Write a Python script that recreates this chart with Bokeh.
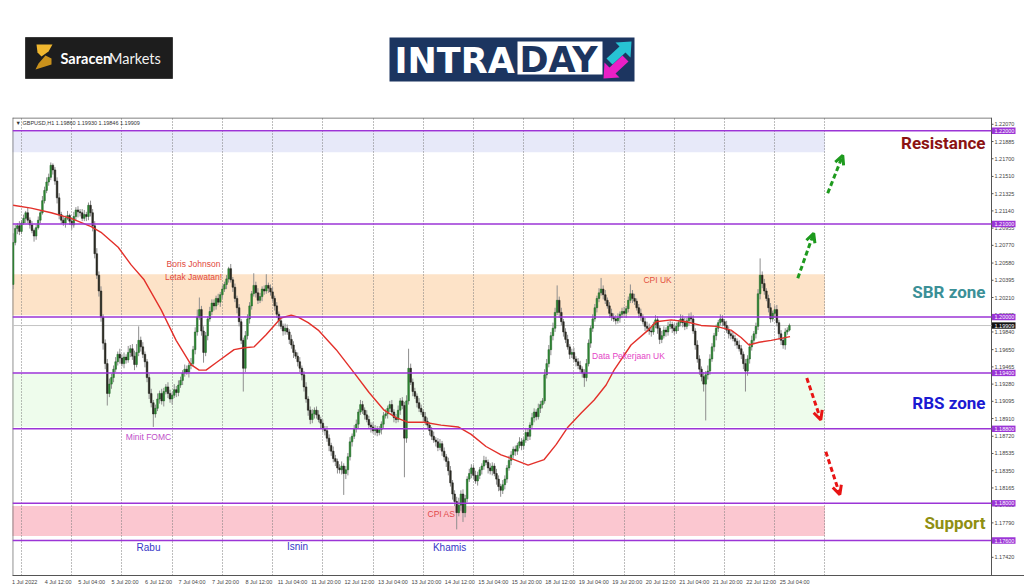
from bokeh.plotting import figure
from bokeh.models import Range1d, FixedTicker, Label, Arrow, OpenHead, ColumnDataSource
from bokeh.core.properties import value
from bokeh.layouts import column
from bokeh.embed import file_html
from bokeh.resources import INLINE

# ---------------- data (GBPUSD H1, prices in pips: 12035 -> 1.2035) ----------------
FIRST_OPEN_PIPS = 12035
CLOSE_PIPS = [
    12080, 12095, 12098, 12092, 12101, 12106, 12112, 12104, 12099, 12093, 12087, 12096, 12104, 12112, 12125, 12136,
    12145, 12150, 12163, 12158, 12146, 12128, 12110, 12104, 12101, 12106, 12109, 12103, 12099, 12108, 12115, 12113,
    12112, 12106, 12110, 12108, 12120, 12112, 12098, 12068, 12045, 12028, 12000, 11972, 11950, 11918, 11928, 11935,
    11944, 11952, 11960, 11956, 11950, 11957, 11954, 11962, 11966, 11958, 11949, 11962, 11975, 11968, 11960, 11952,
    11935, 11918, 11908, 11896, 11902, 11912, 11918, 11910, 11920, 11925, 11918, 11912, 11916, 11922, 11919, 11927,
    11932, 11940, 11944, 11941, 11948, 11950, 11965, 11984, 12000, 12008, 11985, 11962, 11980, 11998, 12006, 12015,
    12012, 12020, 12016, 12024, 12030, 12035, 12041, 12052, 12040, 12032, 12020, 12010, 11995, 11975, 11945, 11980,
    11998, 12012, 12025, 12034, 12026, 12018, 12022, 12030, 12028, 12034, 12031, 12027, 12020, 12012, 12003, 11996,
    11990, 11985, 11988, 11984, 11976, 11970, 11962, 11958, 11952, 11945, 11938, 11925, 11912, 11900, 11890, 11896,
    11900, 11895, 11890, 11886, 11880, 11878, 11870, 11862, 11856, 11848, 11845, 11838, 11836, 11840, 11832, 11836,
    11850, 11866, 11872, 11880, 11885, 11898, 11906, 11900, 11895, 11890, 11884, 11882, 11878, 11880, 11876, 11879,
    11885, 11894, 11896, 11902, 11906, 11898, 11892, 11890, 11900, 11910, 11905, 11870, 11910, 11945, 11930, 11920,
    11915, 11908, 11902, 11898, 11893, 11888, 11884, 11878, 11872, 11868, 11866, 11860, 11864, 11856, 11850, 11845,
    11835, 11822, 11810, 11802, 11790, 11798, 11810, 11790, 11805, 11826, 11832, 11838, 11830, 11824, 11830, 11836,
    11840, 11846, 11844, 11838, 11835, 11840, 11832, 11826, 11818, 11814, 11820, 11826, 11838, 11846, 11852, 11858,
    11856, 11862, 11866, 11862, 11868, 11876, 11872, 11884, 11892, 11898, 11893, 11902, 11906, 11910, 11938, 11950,
    11965, 11980, 11988, 12005, 12018, 12005, 11995, 11984, 11976, 11968, 11960, 11962, 11955, 11952, 11948, 11944,
    11940, 11935, 11950, 11972, 11988, 11998, 12010, 12020, 12026, 12030, 12024, 12018, 12012, 12004, 12000, 11998,
    11996, 11999, 12003, 12006, 12004, 12009, 12018, 12025, 12020, 12017, 12010, 12004, 12000, 11995, 11990, 11988,
    11985, 11984, 11992, 11997, 11988, 11976, 11980, 11986, 11984, 11990, 11992, 11988, 11985, 11990, 11994, 11998,
    11994, 11990, 11996, 12000, 11998, 11985, 11970, 11955, 11944, 11936, 11928, 11938, 11942, 11955, 11968, 11980,
    11988, 11994, 11998, 11995, 11991, 11986, 11982, 11980, 11977, 11974, 11970, 11966, 11960, 11950, 11942, 11955,
    11968, 11975, 11982, 11990, 12025, 12045, 12036, 12028, 12020, 12010, 11998, 12004, 12008, 11994, 11982, 11975,
    11970, 11984, 11986, 11990.9,
]
UPPER_WICK_PIPS = [
    10, 4, 3, 5, 3, 4, 2, 6, 3, 4, 2, 3, 4, 3, 5, 4,
    5, 4, 3, 2, 3, 4, 5, 3, 4, 3, 5, 2, 4, 5, 3, 4,
    3, 4, 5, 3, 3, 5, 4, 5, 6, 4, 5, 3, 4, 5, 6, 4,
    4, 5, 3, 6, 4, 5, 3, 7, 4, 5, 6, 9, 15, 4, 5, 3,
    3, 4, 5, 3, 4, 6, 3, 5, 4, 3, 5, 4, 3, 6, 4, 5,
    4, 3, 5, 4, 3, 6, 4, 5, 8, 13, 4, 5, 4, 3, 5, 4,
    4, 3, 5, 3, 4, 3, 4, 2, 5, 3, 4, 3, 4, 3, 3, 5,
    5, 4, 3, 13, 4, 5, 4, 3, 4, 12, 3, 4, 5, 3, 4, 3,
    4, 3, 5, 4, 3, 5, 4, 3, 4, 5, 3, 4, 5, 3, 4, 5,
    3, 4, 5, 3, 4, 3, 5, 4, 3, 5, 4, 3, 4, 5, 3, 4,
    4, 5, 3, 4, 5, 3, 5, 4, 3, 5, 4, 3, 5, 4, 3, 4,
    3, 4, 5, 3, 4, 5, 3, 4, 5, 3, 4, 4, 6, 21, 5, 4,
    4, 3, 5, 4, 3, 5, 4, 3, 4, 5, 3, 4, 5, 3, 4, 3,
    4, 5, 3, 4, 5, 8, 4, 5, 4, 3, 5, 4, 3, 5, 4, 3,
    3, 5, 4, 3, 5, 4, 3, 5, 4, 3, 5, 4, 3, 5, 4, 3,
    4, 3, 5, 4, 3, 5, 4, 3, 5, 4, 3, 5, 4, 3, 6, 5,
    5, 4, 6, 5, 16, 4, 5, 3, 4, 5, 3, 4, 5, 3, 4, 5,
    3, 4, 5, 4, 3, 5, 4, 3, 5, 12, 4, 5, 3, 4, 5, 4,
    4, 5, 3, 4, 5, 3, 4, 10, 4, 5, 3, 4, 5, 3, 4, 5,
    5, 4, 3, 5, 4, 3, 5, 4, 3, 5, 4, 3, 5, 4, 3, 5,
    4, 5, 3, 4, 5, 4, 3, 5, 4, 3, 5, 4, 6, 5, 4, 3,
    4, 3, 5, 4, 3, 5, 4, 3, 5, 4, 3, 5, 4, 3, 5, 4,
    4, 5, 3, 4, 5, 18, 4, 5, 3, 4, 5, 3, 4, 5, 3, 4,
    3, 4, 3, 2.1,
]
LOWER_WICK_PIPS = [
    5, 3, 6, 4, 3, 2, 5, 3, 4, 3, 6, 4, 2, 3, 2, 3,
    3, 4, 3, 5, 4, 6, 5, 4, 3, 5, 2, 4, 5, 3, 4, 6,
    4, 3, 3, 5, 4, 4, 6, 5, 4, 6, 5, 7, 6, 13, 4, 5,
    5, 3, 4, 6, 3, 5, 4, 3, 5, 4, 6, 3, 4, 5, 4, 6,
    5, 6, 5, 14, 4, 3, 5, 4, 6, 3, 5, 4, 6, 3, 5, 4,
    3, 5, 4, 3, 6, 4, 3, 5, 4, 3, 5, 11, 4, 5, 3, 4,
    5, 4, 3, 5, 4, 3, 5, 4, 3, 5, 4, 6, 5, 4, 25, 4,
    4, 5, 4, 3, 5, 4, 3, 5, 4, 3, 5, 4, 3, 5, 4, 6,
    3, 5, 4, 3, 5, 4, 6, 3, 5, 4, 6, 5, 4, 6, 5, 4,
    5, 4, 3, 6, 4, 5, 4, 6, 5, 4, 5, 6, 4, 5, 23, 6,
    6, 4, 5, 3, 4, 5, 3, 4, 5, 3, 4, 6, 3, 5, 4, 3,
    5, 4, 3, 5, 4, 3, 5, 4, 3, 5, 4, 42, 5, 4, 3, 5,
    3, 5, 4, 3, 5, 4, 3, 5, 4, 3, 5, 4, 3, 5, 4, 6,
    5, 4, 6, 5, 18, 4, 6, 10, 5, 4, 3, 5, 4, 3, 5, 4,
    5, 4, 3, 6, 4, 5, 3, 6, 5, 7, 4, 5, 4, 3, 5, 4,
    5, 4, 3, 5, 4, 3, 5, 4, 3, 5, 4, 3, 5, 4, 3, 4,
    4, 6, 5, 4, 3, 6, 4, 5, 4, 3, 5, 4, 3, 5, 4, 3,
    5, 10, 4, 3, 5, 4, 3, 5, 4, 3, 5, 4, 3, 5, 4, 3,
    4, 3, 5, 4, 3, 5, 4, 3, 5, 4, 3, 5, 4, 3, 5, 4,
    4, 5, 3, 4, 6, 5, 4, 3, 5, 4, 3, 5, 4, 3, 5, 4,
    5, 4, 3, 5, 4, 3, 5, 4, 6, 5, 8, 39, 5, 4, 3, 5,
    5, 4, 3, 5, 4, 3, 5, 4, 3, 5, 4, 3, 5, 6, 22, 5,
    5, 4, 3, 5, 4, 6, 5, 4, 3, 5, 4, 3, 5, 4, 6, 5,
    4, 5, 3, 1.4,
]

# moving average (red line), read at bar positions
MA_BAR = [0, 8.6, 18.2, 27.7, 37.3, 42, 50.2, 56.4, 62.6, 70.7, 77.9, 85, 88.9, 92.2, 97,
          105.6, 110.4, 115.2, 120.9, 128, 132.9, 136.2, 141, 145.8, 154.4, 163, 170.1, 177.3, 183, 188.8,
          196.4, 204.5, 212.7, 218.9, 226, 233.2, 239.4, 246.1, 249.9, 253.8, 259.5, 265.2, 271.5, 277.7, 283.4,
          287.2, 295.3, 303.5, 307.3, 314.5, 321.6, 328.8, 336, 343.1, 347.9, 351.7, 356.5, 362.3, 371.3]
MA_PIPS = [12120, 12117, 12112, 12106, 12097, 12091, 12075, 12056, 12040, 12008, 11975, 11949, 11943, 11943, 11951,
           11965, 11967, 11968, 11981, 11999, 12002, 12000, 11994, 11986, 11965, 11940, 11919, 11900, 11892, 11887,
           11887, 11884, 11882, 11874, 11861, 11852, 11847, 11841, 11844, 11847, 11863, 11882, 11897, 11911, 11927,
           11943, 11970, 11986, 11995, 11997, 11995, 11991, 11990, 11986, 11978, 11970, 11973, 11975, 11979]

TIME_LABELS = ["1 Jul 2022", "4 Jul 12:00", "5 Jul 04:00", "5 Jul 20:00", "6 Jul 12:00", "7 Jul 04:00",
               "7 Jul 20:00", "8 Jul 12:00", "11 Jul 04:00", "11 Jul 20:00", "12 Jul 12:00", "13 Jul 04:00",
               "13 Jul 20:00", "14 Jul 12:00", "15 Jul 04:00", "15 Jul 20:00", "18 Jul 12:00", "19 Jul 04:00",
               "19 Jul 20:00", "20 Jul 12:00", "21 Jul 04:00", "21 Jul 20:00", "22 Jul 12:00", "25 Jul 04:00"]
BARS_PER_LABEL = 16
FIRST_DAY_BAR = 4
BARS_PER_DAY = 24
DAY_LINES = 17

PRICE_TICKS = [1.22070, 1.21885, 1.21700, 1.21510, 1.21325, 1.21140, 1.20955, 1.20770, 1.20580, 1.20395,
               1.20210, 1.20025, 1.19840, 1.19650, 1.19465, 1.19280, 1.19095, 1.18910, 1.18720, 1.18535,
               1.18350, 1.18165, 1.17980, 1.17790, 1.17605, 1.17420]

LEVELS = [1.22000, 1.21000, 1.20000, 1.19400, 1.18800, 1.18000, 1.17600]
ZONE_NAMES = ["Resistance", "SBR zone", "RBS zone", "Support"]
ZONE_BOTTOM = [1.2177, 1.2002, 1.1882, 1.1765]
ZONE_TOP = [1.2199, 1.2046, 1.1939, 1.1797]
ZONE_END_BAR = 388
ZONE_FILL = ["#e7e9f9", "#fde3c8", "#eefcec", "#fbc7d0"]
ZONE_TEXT_COLOR = ["#8b1212", "#3b9097", "#1a1ad2", "#8f8f12"]
ZONE_TEXT_Y = [1.21864, 1.20268, 1.19079, 1.17793]

NOTES = ["Boris Johnson", "Letak Jawatan!", "Minit FOMC", "CPI UK", "Data Pekerjaan UK", "CPI AS"]
NOTE_BAR = [86.2, 86.2, 64.7, 308, 294.1, 204.7]
NOTE_Y = [1.20568, 1.20429, 1.18714, 1.20396, 1.19582, 1.17889]
NOTE_COLOR = ["#e2473c", "#e2473c", "#c04ec8", "#e2503c", "#e444c6", "#e24848"]

DAYS = ["Rabu", "Isnin", "Khamis"]
DAY_BAR = [64.7, 135.9, 208.6]
DAY_Y = [1.17525, 1.17536, 1.17525]

# dashed arrows: (bar_start, price_start, bar_end, price_end, colour)
ARROWS = [(375.0, 1.20418, 382.6, 1.20900, "#1e9a1e"),
          (389.3, 1.21329, 396.5, 1.21736, "#1e9a1e"),
          (379.3, 1.19346, 386.0, 1.18896, "#e81414"),
          (388.4, 1.18554, 395.1, 1.18093, "#e81414")]

# ---------------- derived OHLC ----------------
close = [c / 1e4 for c in CLOSE_PIPS]
opn = [FIRST_OPEN_PIPS / 1e4] + close[:-1]
high = [max(o, c) + u / 1e4 for o, c, u in zip(opn, close, UPPER_WICK_PIPS)]
low = [min(o, c) - d / 1e4 for o, c, d in zip(opn, close, LOWER_WICK_PIPS)]
bars = list(range(len(close)))
bull = [c >= o for o, c in zip(opn, close)]
src = ColumnDataSource(dict(
    i=bars, high=high, low=low,
    top=[max(o, c) for o, c in zip(opn, close)],
    bottom=[min(o, c) for o, c in zip(opn, close)],
    fill=["#2f8c34" if b else "#2e2e26" for b in bull],
    edge=["#1d5e22" if b else "#1a1a14" for b in bull],
))

# ---------------- geometry ----------------
W = 1024
HEAD_H = 116
MAIN_H = 471
B_LEFT, B_TOP, B_BOTTOM = 12, 1, 11
PX_PER_BAR = 2.0924
PX_PER_PRICE = 9333.0
X0 = -0.3
X1 = X0 + (W - B_LEFT) / PX_PER_BAR
X_AXIS = X0 + (991 - 12) / PX_PER_BAR        # price-scale line
Y1 = 1.221429
Y0 = Y1 - (MAIN_H - B_TOP - B_BOTTOM) / PX_PER_PRICE
BAR_PX = 1.0 / PX_PER_BAR
PRICE_PX = 1.0 / PX_PER_PRICE
LABEL_SHIFT_BARS = 5.5   # MT4 writes time labels to the right of their bar

# ---------------- header with logos ----------------
hdr = figure(width=W, height=HEAD_H, x_range=Range1d(B_LEFT, W), y_range=Range1d(HEAD_H, 0),
             output_backend="svg", toolbar_location=None, x_axis_location=None, y_axis_location=None,
             min_border_left=B_LEFT, min_border_right=0, min_border_top=0, min_border_bottom=0)
hdr.outline_line_color = None
hdr.grid.visible = False
hdr.background_fill_color = "white"
hdr.border_fill_color = "white"
# Saracen Markets
hdr.quad(left=[25], right=[172], top=[37], bottom=[78], fill_color="#1d1d1d", line_color="#3a3a3a")
hdr.patch(x=[36, 52, 48, 41, 37], y=[44, 44, 51, 56, 52], fill_color="#f0b72f", line_color=None)
hdr.patch(x=[45, 51, 51, 35, 38], y=[55, 58, 64, 69, 63], fill_color="#c9911c", line_color=None)
hdr.text(x=[60], y=[58], text=["Saracen"], text_color="white", text_font=value("Lato"),
         text_font_style="bold", text_font_size="14.5px", text_baseline="middle")
hdr.text(x=[108.5], y=[58], text=["Markets"], text_color="#f2f2f2", text_font=value("Lato"),
         text_font_size="14.5px", text_baseline="middle")
# INTRADAY
hdr.quad(left=[389], right=[634], top=[37], bottom=[81], fill_color="#1c3560", line_color=None)
hdr.quad(left=[517], right=[602], top=[41], bottom=[74], fill_color="white", line_color=None)
hdr.text(x=[394], y=[60], text=["INTRA"], text_color="white", text_font=value("DejaVu Sans"),
         text_font_style="bold", text_font_size="35px", text_baseline="middle")
hdr.text(x=[519], y=[59], text=["DAY"], text_color="#1c3560", text_font=value("DejaVu Sans"),
         text_font_style="bold", text_font_size="35px", text_baseline="middle")
hdr.patch(x=[631, 630, 625, 612, 606, 619, 615], y=[41, 57, 52, 64, 58, 46, 42], fill_color="#27c3d4", line_color=None)
hdr.patch(x=[603, 604, 609, 622, 628, 615, 619], y=[78, 62, 67, 55, 61, 73, 77], fill_color="#ea1fc6", line_color=None)

# ---------------- main chart ----------------
p = figure(width=W, height=MAIN_H, x_range=Range1d(X0, X1), y_range=Range1d(Y0, Y1),
           output_backend="svg", toolbar_location=None, y_axis_location=None,
           min_border_left=B_LEFT, min_border_right=0, min_border_top=B_TOP, min_border_bottom=B_BOTTOM)
p.background_fill_color = "white"
p.border_fill_color = "white"
p.outline_line_color = None

# zones
zr = p.quad(left=[X0 - 5] * len(ZONE_TOP), right=[ZONE_END_BAR] * len(ZONE_TOP), bottom=ZONE_BOTTOM, top=ZONE_TOP,
            fill_color=ZONE_FILL, line_color=None)
zr.level = "image"

# grids
p.ygrid.visible = False
p.xgrid.ticker = FixedTicker(ticks=[FIRST_DAY_BAR + BARS_PER_DAY * k for k in range(DAY_LINES)])
p.xgrid.grid_line_color = "#7a7a7a"
p.xgrid.grid_line_dash = "1 2"
p.xgrid.grid_line_width = 1

# frame border (left, top) and price-scale line
p.segment(x0=[X0 + 0.3 * BAR_PX, X0, X_AXIS], y0=[Y0, Y1 - 0.5 * PRICE_PX, Y0],
          x1=[X0 + 0.3 * BAR_PX, X_AXIS, X_AXIS], y1=[Y1, Y1 - 0.5 * PRICE_PX, Y1],
          line_color="#555555", line_width=1)

# bid line
p.segment(x0=[X0], y0=[close[-1]], x1=[X_AXIS], y1=[close[-1]], line_color="#c4c4c4", line_width=1)

# candles
p.segment(x0="i", y0="low", x1="i", y1="high", source=src, line_color="#8e8e8e", line_width=1)
p.vbar(x="i", width=0.78, top="top", bottom="bottom", source=src, fill_color="fill", line_color="edge",
       line_width=0.5)

# moving average
p.line(x=MA_BAR, y=[v / 1e4 for v in MA_PIPS], line_color="#e3302a", line_width=1.4)

# level lines (stop at the price scale)
p.segment(x0=[X0] * len(LEVELS), y0=LEVELS, x1=[X_AXIS] * len(LEVELS), y1=LEVELS,
          line_color="#9b35d6", line_width=1.6)

# annotations text
p.text(x=NOTE_BAR, y=NOTE_Y, text=NOTES, text_color=NOTE_COLOR, text_font=value("Liberation Sans"),
       text_font_size="8.5px", text_align="center", text_baseline="middle")
p.text(x=DAY_BAR, y=DAY_Y, text=DAYS, text_color="#3636c8", text_font=value("Liberation Sans"),
       text_font_size="10px", text_align="center", text_baseline="middle")
p.text(x=[X0 + (985 - 12) * BAR_PX] * len(ZONE_NAMES), y=ZONE_TEXT_Y, text=ZONE_NAMES, text_color=ZONE_TEXT_COLOR,
       text_font=value("Roboto"), text_font_style="bold", text_font_size="17px",
       text_align="right", text_baseline="middle")

for xs, ys, xe, ye, col in ARROWS:
    p.add_layout(Arrow(end=OpenHead(size=9, line_color=col, line_width=3), x_start=xs, y_start=ys,
                       x_end=xe, y_end=ye, line_color=col, line_width=3, line_dash="5 3"))

# symbol header
p.add_layout(Label(x=X0, y=1.22089, x_offset=3,
                   text="\u25bc GBPUSD,H1  %.5f %.5f %.5f %.5f" % (opn[-1], high[-1], low[-1], close[-1]),
                   text_font="Liberation Sans", text_font_size="5.5px", text_color="#333333",
                   text_baseline="middle"))

# price scale: ticks and labels
p.segment(x0=[X_AXIS] * len(PRICE_TICKS), y0=PRICE_TICKS, x1=[X_AXIS + 2 * BAR_PX] * len(PRICE_TICKS),
          y1=PRICE_TICKS, line_color="#555555", line_width=1)
p.text(x=[X_AXIS + 3 * BAR_PX] * len(PRICE_TICKS), y=PRICE_TICKS, text=["%.5f" % t for t in PRICE_TICKS],
       text_font=value("Liberation Sans"), text_font_size="5.5px", text_color="#444444",
       text_align="left", text_baseline="middle")
# level price tags and the last-price tag
TAG_PRICES = LEVELS + [close[-1]]
TAG_COLORS = ["#9b35d6"] * len(LEVELS) + ["#111111"]
p.quad(left=[X_AXIS + 0.5 * BAR_PX] * len(TAG_PRICES), right=[X_AXIS + 24 * BAR_PX] * len(TAG_PRICES),
       bottom=[t - 3.2 * PRICE_PX for t in TAG_PRICES], top=[t + 3.2 * PRICE_PX for t in TAG_PRICES],
       fill_color=TAG_COLORS, line_color=None)
p.text(x=[X_AXIS + 3 * BAR_PX] * len(TAG_PRICES), y=TAG_PRICES, text=["%.5f" % t for t in TAG_PRICES],
       text_font=value("Liberation Sans"), text_font_size="5.5px", text_color="white",
       text_align="left", text_baseline="middle")

# time axis (labels sit right of their bar, as in MT4)
label_pos = [BARS_PER_LABEL * k + LABEL_SHIFT_BARS for k in range(len(TIME_LABELS))]
xa = p.xaxis[0]
xa.ticker = FixedTicker(ticks=label_pos)
xa.major_label_overrides = {pos: t for pos, t in zip(label_pos, TIME_LABELS)}
xa.major_label_text_font = "Liberation Sans"
xa.major_label_text_font_size = "5.5px"
xa.major_label_text_color = "#444444"
xa.major_tick_out = 0
xa.major_tick_in = 0
xa.minor_tick_line_color = None
xa.major_tick_line_color = None
xa.major_label_standoff = 3
xa.axis_line_color = "#555555"

layout = column(hdr, p)
open("out.html", "w").write(file_html(layout, INLINE))
